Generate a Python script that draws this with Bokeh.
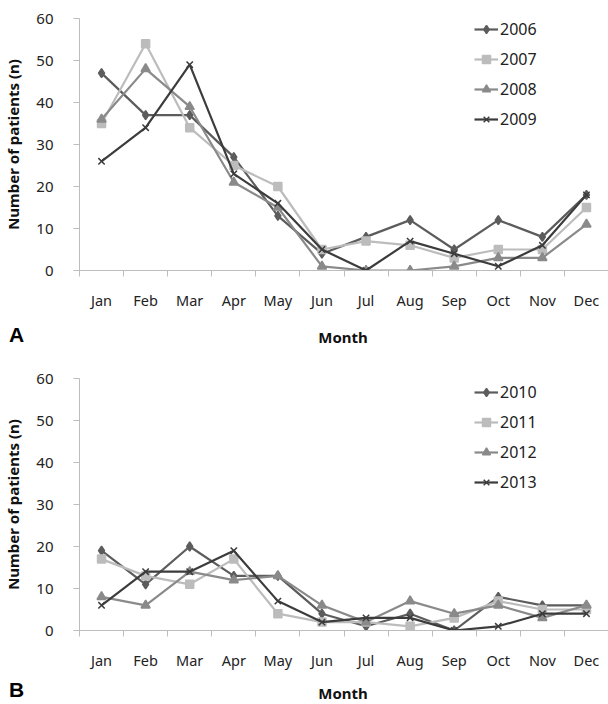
from bokeh.plotting import figure
from bokeh.layouts import column
from bokeh.models import Range1d, FixedTicker, Legend, Div
from bokeh.embed import file_html
from bokeh.resources import INLINE

months = ["Jan", "Feb", "Mar", "Apr", "May", "Jun", "Jul", "Aug", "Sep", "Oct", "Nov", "Dec"]
y_ticks = [0, 10, 20, 30, 40, 50, 60]

years_a = ["2006", "2007", "2008", "2009"]
v2006 = [47, 37, 37, 27, 13, 4, 8, 12, 5, 12, 8, 18]
v2007 = [35, 54, 34, 25, 20, 5, 7, 6, 3, 5, 5, 15]
v2008 = [36, 48, 39, 21, 15, 1, 0, 0, 1, 3, 3, 11]
v2009 = [26, 34, 49, 23, 16, 5, 0, 7, 4, 1, 6, 18]

years_b = ["2010", "2011", "2012", "2013"]
v2010 = [19, 11, 20, 13, 13, 4, 1, 4, 0, 8, 6, 6]
v2011 = [17, 13, 11, 17, 4, 2, 2, 1, 3, 7, 5, 5]
v2012 = [8, 6, 14, 12, 13, 6, 2, 7, 4, 6, 3, 6]
v2013 = [6, 14, 14, 19, 7, 2, 3, 3, 0, 1, 4, 4]

x_title = "Month"
y_title = "Number of patients (n)"

FONT = "Noto Sans"
colors = ["#5c5c5c", "#bcbcbc", "#8a8a8a", "#3c3c3c"]
markers = ["diamond", "square", "triangle", "x"]
msizes = [9, 8, 9, 9]

xpos = [i + 0.5 for i in range(len(months))]


def make_panel(years, series, top_border, bottom_border, legend_bottom):
    p = figure(width=608, height=top_border + 252 + bottom_border,
               output_backend="svg", toolbar_location=None,
               x_range=Range1d(0, len(months)), y_range=Range1d(0, 60),
               min_border_left=78, min_border_right=0,
               min_border_top=top_border, min_border_bottom=bottom_border)
    p.outline_line_color = None
    p.grid.visible = False
    p.background_fill_color = "white"
    p.border_fill_color = "white"

    items = []
    for yr, vals, c, m, s in zip(years, series, colors, markers, msizes):
        r1 = p.line(xpos, vals, line_color=c, line_width=2.2)
        r2 = p.scatter(xpos, vals, marker=m, size=s, fill_color=c,
                       line_color=c, line_width=1.5)
        items.append((yr, [r1, r2]))

    leg = Legend(items=items, location=(395, legend_bottom))
    leg.background_fill_alpha = 0
    leg.border_line_color = None
    leg.padding = 0
    leg.margin = 0
    leg.spacing = 8
    leg.label_height = 20
    leg.glyph_height = 20
    leg.glyph_width = 24
    leg.label_standoff = 2
    leg.label_text_font = FONT
    leg.label_text_font_size = "16px"
    leg.label_text_color = "#222222"
    p.add_layout(leg)

    # x axis (month names centred in each category, ticks between them)
    xa = p.xaxis[0]
    xa.ticker = FixedTicker(ticks=xpos, minor_ticks=list(range(len(months) + 1)))
    xa.major_label_overrides = {x: m for x, m in zip(xpos, months)}
    xa.major_tick_out = 0
    xa.major_tick_in = 0
    xa.minor_tick_out = 6
    xa.minor_tick_in = 0
    xa.minor_tick_line_color = "#bdbdbd"
    xa.axis_line_color = "#bdbdbd"
    xa.major_label_standoff = 13
    xa.major_label_text_font = FONT
    xa.major_label_text_font_size = "14.5px"
    xa.major_label_text_color = "#222222"

    # y axis
    ya = p.yaxis[0]
    ya.ticker = FixedTicker(ticks=y_ticks)
    ya.minor_tick_line_color = None
    ya.major_tick_out = 6
    ya.major_tick_in = 0
    ya.major_tick_line_color = "#bdbdbd"
    ya.axis_line_color = "#bdbdbd"
    ya.major_label_standoff = 20
    ya.major_label_text_font = FONT
    ya.major_label_text_font_size = "15px"
    ya.major_label_text_color = "#222222"
    ya.axis_label = y_title
    ya.axis_label_text_font = FONT
    ya.axis_label_text_font_size = "15px"
    ya.axis_label_text_font_style = "bold"
    ya.axis_label_text_color = "#111111"
    ya.axis_label_standoff = 10
    return p


def make_strip(height, letter, letter_top, month_top):
    html = (
        f'<div style="position:relative;width:608px;height:{height}px;overflow:hidden;">'
        f'<span style="position:absolute;left:9px;top:{letter_top}px;'
        f"font-family:'Liberation Sans',sans-serif;font-weight:bold;font-size:21px;"
        f'line-height:21px;color:#000000;">{letter}</span>'
        f'<span style="position:absolute;left:343px;top:{month_top}px;transform:translateX(-50%);'
        f"font-family:'Noto Sans',sans-serif;font-weight:bold;font-size:15px;"
        f'line-height:20px;color:#111111;white-space:nowrap;">{x_title}</span>'
        f'</div>'
    )
    return Div(text=html, width=608, height=height, margin=0)


pa = make_panel(years_a, [v2006, v2007, v2008, v2009], 18, 46, 140)
sa = make_strip(36, "A", 8, 11)
pb = make_panel(years_b, [v2010, v2011, v2012, v2013], 26, 46, 137)
sb = make_strip(28, "B", 3, 7)

layout = column(pa, sa, pb, sb, spacing=0)
open("out.html", "w").write(file_html(layout, INLINE))
